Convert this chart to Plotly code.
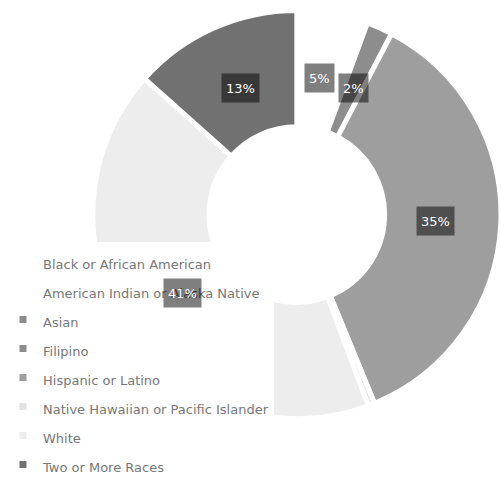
import math
import plotly.graph_objects as go

# Enrollment share by race / ethnicity (percent)
categories = [
    "Black or African American",
    "American Indian or Alaska Native",
    "Asian",
    "Filipino",
    "Hispanic or Latino",
    "Native Hawaiian or Pacific Islander",
    "White",
    "Two or More Races",
]
shares = [5, 0.2, 0.25, 2, 35, 0.5, 41, 13]
slice_colors = ["#ffffff", "#ffffff", "#8c8c8c", "#8d8d8d",
                "#9e9e9e", "#e2e2e2", "#ededed", "#717171"]
label_min = 2  # slices below this share carry no value label

W, H = 501, 480
dom_x = [0.185, 1.0]
dom_y = [0.127, 0.979]
hole = 0.43

legend_names = [f'<span style="font-size:13px">{c}</span>' for c in categories]

fig = go.Figure(go.Pie(
    labels=legend_names,
    values=shares,
    sort=False,
    direction="clockwise",
    rotation=0,
    hole=hole,
    textinfo="none",
    hoverinfo="skip",
    marker=dict(colors=slice_colors, line=dict(color="#ffffff", width=5)),
    domain=dict(x=dom_x, y=dom_y),
))

# value boxes sit on each slice's bisector, inside the ring
r_px = min((dom_x[1] - dom_x[0]) * W, (dom_y[1] - dom_y[0]) * H) / 2
cx = (dom_x[0] + dom_x[1]) / 2
cy = (dom_y[0] + dom_y[1]) / 2
label_r = 0.68 * r_px
total = sum(shares)
annotations = []
cum = 0.0
for v in shares:
    mid = 2 * math.pi * (cum + v / 2) / total
    cum += v
    if v < label_min:
        continue
    annotations.append(dict(
        x=cx + label_r * math.sin(mid) / W,
        y=cy + label_r * math.cos(mid) / H,
        xref="paper", yref="paper",
        xanchor="center", yanchor="middle",
        text=f"{v:g}%",
        showarrow=False,
        font=dict(family="DejaVu Sans", size=13, color="#ffffff"),
        bgcolor="rgba(0,0,0,0.5)",
        borderpad=4,
        height=20,
    ))

fig.update_layout(
    width=W, height=H,
    margin=dict(l=0, r=0, t=0, b=0, autoexpand=False),
    paper_bgcolor="#ffffff",
    plot_bgcolor="#ffffff",
    showlegend=True,
    legend=dict(
        x=3 / W, y=1 - 242 / H, xanchor="left", yanchor="top",
        bgcolor="#ffffff", borderwidth=0,
        font=dict(family="DejaVu Sans", size=20, color="#777777"),
        itemclick=False, itemdoubleclick=False,
    ),
    annotations=annotations,
)

fig.write_html("out.html")
